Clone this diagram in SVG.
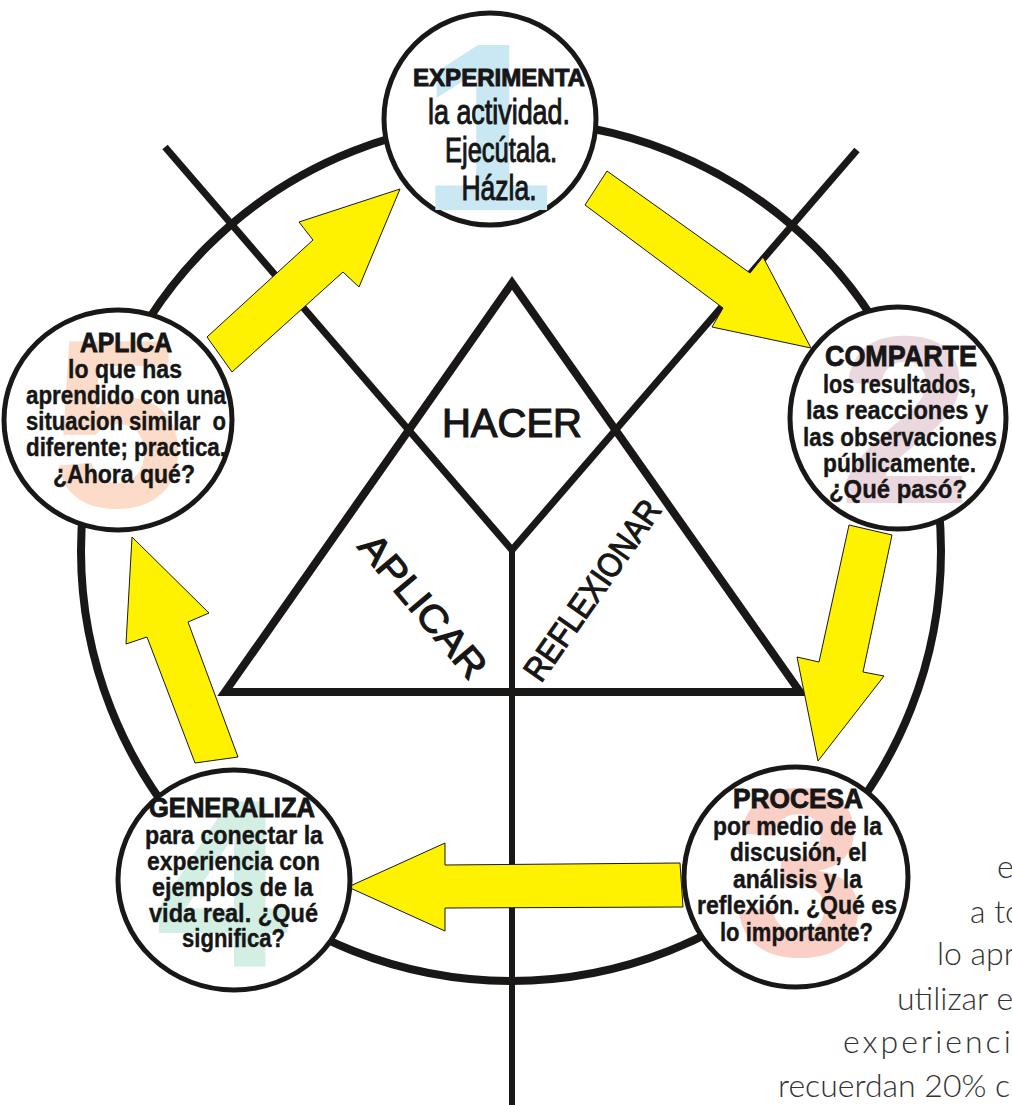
<svg xmlns="http://www.w3.org/2000/svg" width="1012" height="1105" viewBox="0 0 1012 1105">
<style>
.ln{fill:none;stroke:#1a1717;stroke-linecap:butt}
.arr{fill:#fff200;stroke:#1a1717;stroke-width:1;stroke-linejoin:miter}
.nc{fill:#ffffff;stroke:#1a1717;stroke-width:5}
.t{font-family:"Liberation Sans",Arial,sans-serif;text-anchor:middle;fill:#161616}
.ti{font-weight:bold;stroke:#161616;stroke-width:0.9}
.bd{font-weight:bold;font-size:26px;stroke:#161616;stroke-width:0.4}
.dg{font-family:"Liberation Sans",Arial,sans-serif;font-weight:bold;font-size:240px;text-anchor:middle}
.big{font-family:"Liberation Sans",Arial,sans-serif;fill:#161616;text-anchor:middle;stroke:#161616}
.side{font-family:Lato,"Open Sans","Liberation Sans",sans-serif;font-weight:300;font-size:32px;fill:#333333}
</style>
<rect width="1012" height="1105" fill="#ffffff"/>
<g id="frame">
<circle cx="511" cy="551" r="430" class="ln" stroke-width="8"/>
<line x1="165" y1="147" x2="512" y2="550" class="ln" stroke-width="7"/>
<line x1="857" y1="150" x2="512" y2="550" class="ln" stroke-width="7"/>
<line x1="512" y1="548" x2="512" y2="1105" class="ln" stroke-width="6"/>
<polygon points="512,283 225,692 800,692" class="ln" stroke-width="8" stroke-linejoin="miter"/>
<text x="512" y="437" class="big" font-size="40" stroke-width="1.2">HACER</text>
<g transform="translate(423,606) rotate(50)"><text x="0" y="13" class="big" font-size="38" textLength="176" lengthAdjust="spacingAndGlyphs" stroke-width="1.2">APLICAR</text></g>
<g transform="translate(592,590) rotate(-55)"><text x="0" y="12" class="big" font-size="34" textLength="212" lengthAdjust="spacingAndGlyphs" stroke-width="1.1">REFLEXIONAR</text></g>
</g>
<g id="connectors">
<polygon class="arr" points="207,337 313,240 299,222 400,189 359,287 343,272 232,372"/>
<polygon class="arr" points="607,171 750,273 763,257 811,348 712,327 723,308 585,205"/>
<polygon class="arr" points="849,525 892,535 863,672 884,676 818,761 797,657 819,662"/>
<polygon class="arr" points="348,887 445,843 445,865 680,863 683,907 445,908 445,931"/>
<polygon class="arr" points="132,537 209,613 188,622 238,757 195,763 147,637 126,644"/>
</g>
<g id="node-experimenta">
<circle cx="490" cy="119" r="106" class="nc"/>
<text x="487" y="210" class="dg" fill="#c9e8f3">1</text>
<text x="499" y="86" class="t ti" font-size="24" textLength="172" lengthAdjust="spacingAndGlyphs">EXPERIMENTA</text>
<text x="499" y="124" class="t" font-size="35" stroke="#161616" stroke-width="1" textLength="142" lengthAdjust="spacingAndGlyphs">la actividad.</text>
<text x="501" y="162" class="t" font-size="35" stroke="#161616" stroke-width="1" textLength="112" lengthAdjust="spacingAndGlyphs">Ejecútala.</text>
<text x="499" y="200" class="t" font-size="35" stroke="#161616" stroke-width="1" textLength="75" lengthAdjust="spacingAndGlyphs">Házla.</text>
</g>
<g id="node-comparte">
<ellipse cx="898" cy="418" rx="108" ry="111" class="nc"/>
<text x="905" y="503" class="dg" fill="#ebd8de">2</text>
<text x="901" y="366" class="t ti" font-size="30" textLength="152" lengthAdjust="spacingAndGlyphs">COMPARTE</text>
<text x="899.5" y="392.5" class="t bd" textLength="153" lengthAdjust="spacingAndGlyphs">los resultados,</text>
<text x="897" y="419" class="t bd" textLength="182" lengthAdjust="spacingAndGlyphs">las reacciones y</text>
<text x="900" y="445.5" class="t bd" textLength="194" lengthAdjust="spacingAndGlyphs">las observaciones</text>
<text x="899.5" y="472" class="t bd" textLength="153" lengthAdjust="spacingAndGlyphs">públicamente.</text>
<text x="898" y="498" class="t bd" textLength="138" lengthAdjust="spacingAndGlyphs">¿Qué pasó?</text>
</g>
<g id="node-procesa">
<ellipse cx="796" cy="877" rx="112" ry="110" class="nc"/>
<text x="800" y="955" class="dg" fill="#f9cfc6">3</text>
<text x="798" y="808" class="t ti" font-size="27" textLength="130" lengthAdjust="spacingAndGlyphs">PROCESA</text>
<text x="797.5" y="834.5" class="t bd" textLength="169" lengthAdjust="spacingAndGlyphs">por medio de la</text>
<text x="798.5" y="861" class="t bd" textLength="137" lengthAdjust="spacingAndGlyphs">discusión, el</text>
<text x="797.5" y="887.5" class="t bd" textLength="129" lengthAdjust="spacingAndGlyphs">análisis y la</text>
<text x="797" y="914" class="t bd" textLength="200" lengthAdjust="spacingAndGlyphs">reflexión.  ¿Qué es</text>
<text x="796.5" y="940.5" class="t bd" textLength="153" lengthAdjust="spacingAndGlyphs">lo importante?</text>
</g>
<g id="node-generaliza">
<ellipse cx="234" cy="880" rx="116" ry="110" class="nc"/>
<text x="222" y="967" class="dg" fill="#d3efe3">4</text>
<text x="232" y="817" class="t ti" font-size="27" textLength="166" lengthAdjust="spacingAndGlyphs">GENERALIZA</text>
<text x="234" y="844" class="t bd" textLength="178" lengthAdjust="spacingAndGlyphs">para conectar la</text>
<text x="233.5" y="870" class="t bd" textLength="173" lengthAdjust="spacingAndGlyphs">experiencia con</text>
<text x="232.5" y="895.5" class="t bd" textLength="161" lengthAdjust="spacingAndGlyphs">ejemplos de la</text>
<text x="233.5" y="921.5" class="t bd" textLength="169" lengthAdjust="spacingAndGlyphs">vida real. ¿Qué</text>
<text x="233.5" y="947" class="t bd" textLength="103" lengthAdjust="spacingAndGlyphs">significa?</text>
</g>
<g id="node-aplica">
<ellipse cx="118" cy="420" rx="114" ry="110" class="nc"/>
<text x="118" y="507" class="dg" fill="#fcdcc8">5</text>
<text x="126" y="352" class="t ti" font-size="27" textLength="92" lengthAdjust="spacingAndGlyphs">APLICA</text>
<text x="125" y="378" class="t bd" textLength="114" lengthAdjust="spacingAndGlyphs">lo que has</text>
<text x="126" y="404" class="t bd" textLength="200" lengthAdjust="spacingAndGlyphs">aprendido con una</text>
<text x="126" y="430" class="t bd" textLength="200" lengthAdjust="spacingAndGlyphs">situacion similar&#160; o</text>
<text x="126" y="456" class="t bd" textLength="200" lengthAdjust="spacingAndGlyphs">diferente; practica.</text>
<text x="124" y="482.5" class="t bd" textLength="142" lengthAdjust="spacingAndGlyphs">¿Ahora qué?</text>
</g>
<g id="side-text">
<text x="997" y="878" class="side">e</text>
<text x="970" y="923" class="side">a to</text>
<text x="937" y="965" class="side">lo apr</text>
<text x="897" y="1010" class="side">utilizar e</text>
<text x="843" y="1053" class="side" letter-spacing="3">experienci</text>
<text x="778" y="1097" class="side">recuerdan 20% c</text>
</g>
</svg>
